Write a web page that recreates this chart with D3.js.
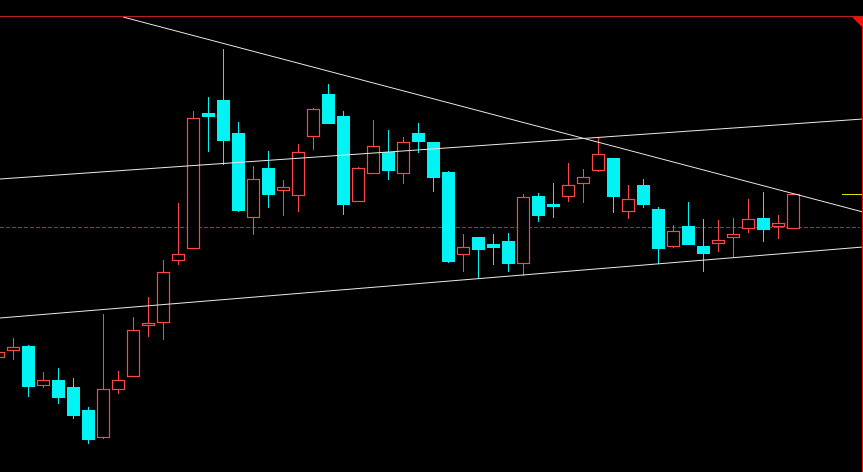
<!DOCTYPE html>
<html><head><meta charset="utf-8">
<script src="https://cdn.jsdelivr.net/npm/d3@7/dist/d3.min.js"></script>
<style>html,body{margin:0;padding:0;background:#000;overflow:hidden}svg{display:block}</style>
</head><body><svg id="c" width="863" height="472"></svg>
<script>
// candle index (0 = first fully visible bar)
const idx = d3.range(-1, 53);
const open  = [12.30,12.44,12.52,11.74,11.84,11.70,11.24,10.70,11.66,11.92,12.94,13.00,14.24,14.48,17.18,17.44,16.78,15.10,16.08,15.64,15.54,16.72,17.56,17.12,15.42,15.98,16.40,15.98,16.78,16.60,16.00,14.36,14.70,14.56,14.62,14.18,15.52,15.36,15.52,15.78,16.04,16.28,15.22,15.74,15.26,14.52,14.92,14.52,14.58,14.70,14.88,15.08,14.92,14.88];
const high  = [12.48,12.68,12.54,12.00,12.08,11.88,11.30,13.16,12.02,13.10,13.50,14.24,15.38,17.22,17.50,18.46,17.00,16.12,16.42,15.84,16.56,17.28,17.76,17.22,16.10,17.04,16.84,16.70,16.98,16.60,16.02,14.76,14.70,14.76,14.78,15.56,15.58,15.78,16.18,16.06,16.70,16.28,15.74,15.86,15.30,14.94,15.40,15.06,15.04,15.08,15.46,15.60,15.14,15.56];
const low   = [12.24,12.26,11.52,11.70,11.38,11.08,10.58,10.68,11.58,11.92,12.72,12.66,14.16,14.48,16.42,16.16,15.22,14.76,15.30,15.14,15.22,16.46,16.98,15.16,15.42,15.98,15.86,15.78,16.40,15.62,14.20,14.02,13.88,14.16,14.02,13.94,15.02,15.10,15.42,15.40,16.02,15.20,15.08,15.30,14.18,14.50,14.56,14.02,14.42,14.30,14.80,14.62,14.68,14.88];
const close = [12.40,12.50,11.72,11.84,11.50,11.14,10.66,11.66,11.84,12.84,12.98,14.00,14.36,17.08,17.12,16.64,15.24,15.86,15.56,15.70,16.40,17.26,16.98,15.36,16.08,16.52,16.04,16.60,16.62,15.90,14.22,14.50,14.46,14.50,14.18,15.50,15.14,15.32,15.74,15.90,16.36,15.52,15.46,15.36,14.48,14.82,14.56,14.38,14.64,14.76,15.06,14.86,14.98,15.56];
// reference price levels
const refPrice = 14.90;      // dashed line
const lastPrice = close[close.length - 1];
// trend lines: [index, price] endpoints
const trendDown  = [[7.333, 19.10], [56.667, 15.20]];
const trendUpTop = [[-0.867, 15.86], [56.667, 17.06]];
const trendUpBot = [[-0.867, 13.08], [56.667, 14.50]];

const W = 863, H = 472;
const svg = d3.select('#c');
svg.append('rect').attr('width', W).attr('height', H).attr('fill', '#000');

const x = d3.scaleLinear().domain([0, 52]).range([13, 793]);
const y = d3.scaleLinear().domain([10, 19.44]).range([472, 0]);

const UP = '#ff4646', DOWN = '#00f4f4';
const data = idx.map((k, i) => ({k, o: open[i], h: high[i], l: low[i], c: close[i]}));

const plot = svg.append('g');
// dashed reference line
plot.append('line').attr('x1', 0).attr('x2', 860)
  .attr('y1', Math.round(y(refPrice)) + 0.5).attr('y2', Math.round(y(refPrice)) + 0.5)
  .attr('stroke', '#d02020').attr('stroke-dasharray', '4,2');

// candles
const g = plot.selectAll('g.k').data(data).join('g').attr('class', 'k');
g.append('line')
  .attr('x1', d => Math.round(x(d.k)) + 0.5).attr('x2', d => Math.round(x(d.k)) + 0.5)
  .attr('y1', d => Math.round(y(d.h))).attr('y2', d => Math.round(y(d.l)) + 1)
  .attr('stroke', d => d.c >= d.o ? UP : DOWN);
g.filter(d => d.c < d.o).append('rect')
  .attr('x', d => Math.round(x(d.k)) - 6)
  .attr('width', 13)
  .attr('y', d => Math.round(y(d.o)))
  .attr('height', d => Math.max(2, Math.round(y(d.c)) - Math.round(y(d.o)) + 1))
  .attr('fill', DOWN);
g.filter(d => d.c >= d.o).append('rect')
  .attr('x', d => Math.round(x(d.k)) - 5.5)
  .attr('width', 12)
  .attr('y', d => Math.round(y(d.c)) + 0.5)
  .attr('height', d => Math.max(1, Math.round(y(d.o)) - Math.round(y(d.c))))
  .attr('fill', '#000').attr('stroke', UP).attr('stroke-width', 1.2);

// trend lines
[trendDown, trendUpTop, trendUpBot].forEach(t => {
  plot.append('line')
    .attr('x1', x(t[0][0])).attr('y1', y(t[0][1]))
    .attr('x2', x(t[1][0])).attr('y2', y(t[1][1]))
    .attr('stroke', '#e8e8e8').attr('stroke-width', 1);
});

// last price marker
plot.append('line').attr('x1', 842).attr('x2', 862)
  .attr('y1', Math.round(y(lastPrice)) + 0.5).attr('y2', Math.round(y(lastPrice)) + 0.5)
  .attr('stroke', '#e0e000');

// frame
svg.append('rect').attr('x', 0).attr('y', 0).attr('width', W).attr('height', 16).attr('fill', '#000');
svg.append('line').attr('x1', 0).attr('x2', W).attr('y1', 16.5).attr('y2', 16.5).attr('stroke', '#c01c1c');
svg.append('line').attr('x1', 862.5).attr('x2', 862.5).attr('y1', 16).attr('y2', H).attr('stroke', '#f01010');
svg.append('path').attr('d', 'M852,17 L863,17 L863,28 Z').attr('fill', '#f01010');
</script></body></html>
